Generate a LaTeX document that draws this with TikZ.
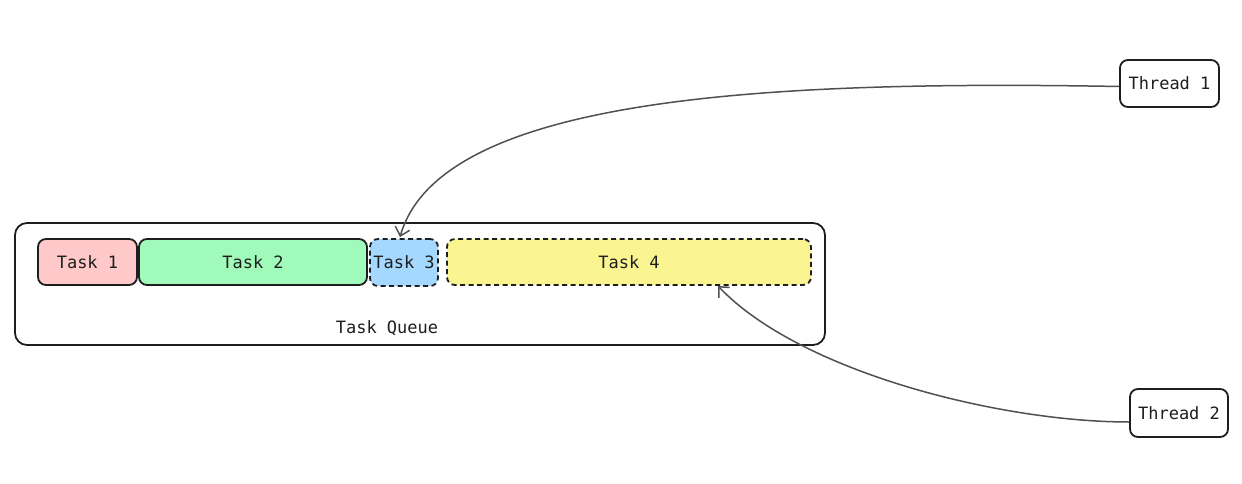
\documentclass[tikz,border=0pt]{standalone}
\usepackage{fontspec}
\setmonofont{DejaVu Sans Mono}
\usetikzlibrary{arrows.meta}
\definecolor{ink}{HTML}{1E1E1E}
\definecolor{wire}{HTML}{505050}
\definecolor{redfill}{RGB}{255,201,201}
\definecolor{greenfill}{RGB}{160,250,185}
\definecolor{bluefill}{RGB}{165,216,255}
\definecolor{yellowfill}{RGB}{250,245,145}
\tikzset{
  box/.style={draw=ink, line width=1.8pt, rounded corners=8pt, inner sep=0pt,
    font=\ttfamily\fontsize{17}{20}\selectfont, text=ink},
  pending/.style={box, dash pattern=on 5pt off 3.5pt},
  link/.style={draw=wire, line width=1.5pt, -{Straight Barb[length=8pt,width=15pt,line width=1.5pt]}},
}
\begin{document}
\begin{tikzpicture}[x=1pt,y=-1pt]
\useasboundingbox (0,0) rectangle (1242,484);
% queue container
\node[box, rounded corners=12pt, minimum width=810pt, minimum height=122pt] (queue) at (420,284) {};
\node[font=\ttfamily\fontsize{17}{20}\selectfont, text=ink] (qlabel) at (387,328) {Task Queue};
% tasks
\node[box, fill=redfill, minimum width=99pt, minimum height=46pt] (task1) at (87.5,262) {Task 1};
\node[box, fill=greenfill, minimum width=228pt, minimum height=46pt] (task2) at (253,262) {Task 2};
\node[pending, fill=bluefill, minimum width=68pt, minimum height=47pt] (task3) at (404,262.5) {Task 3};
\node[pending, fill=yellowfill, minimum width=364pt, minimum height=46pt] (task4) at (629,262) {Task 4};
% threads
\node[box, fill=white, minimum width=99pt, minimum height=47pt] (thread1) at (1169.5,83.5) {Thread 1};
\node[box, fill=white, minimum width=98pt, minimum height=48pt] (thread2) at (1179,413) {Thread 2};
% thread pointers
\coordinate (t3in) at (400,237);
\coordinate (t4in) at (718,286);
\draw[link] ([yshift=-3pt]thread1.west) .. controls (760,80) and (440,98) .. (t3in);
\draw[link] ([yshift=-9pt]thread2.west) .. controls (1000,422) and (800,372) .. (t4in);
\end{tikzpicture}
\end{document}
